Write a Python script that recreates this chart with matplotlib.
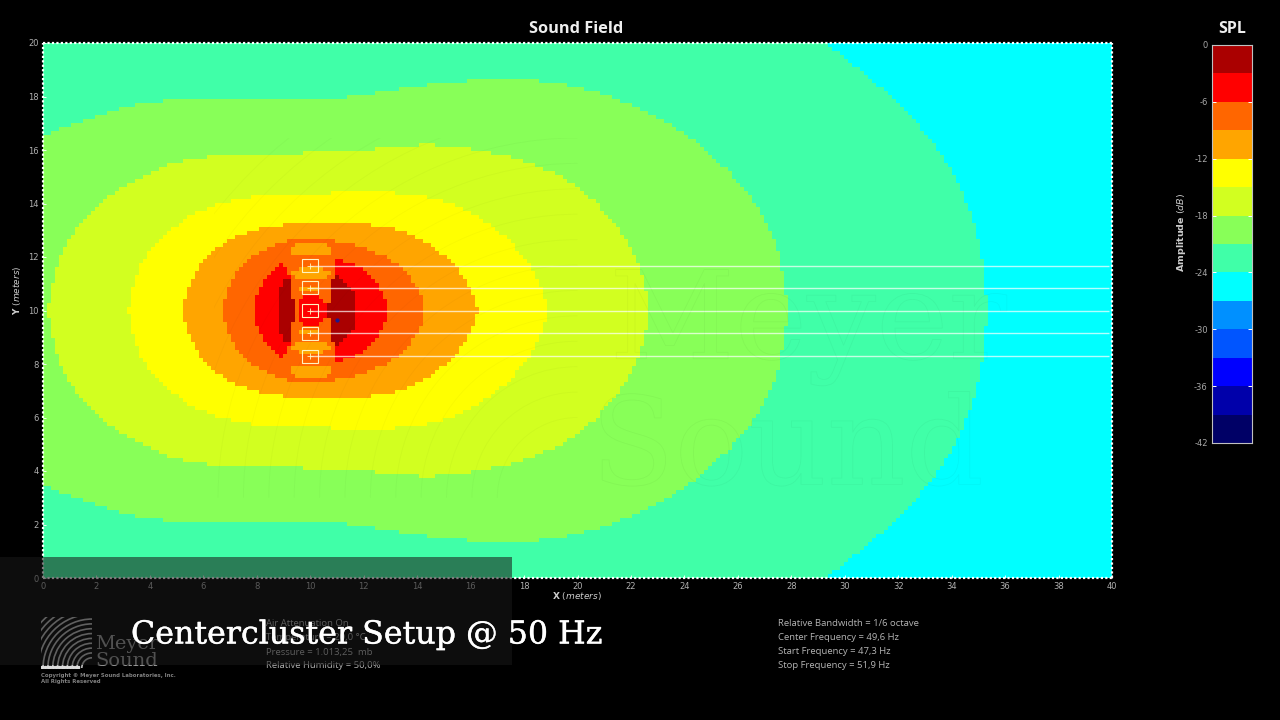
import matplotlib
matplotlib.use('Agg')
import matplotlib.pyplot as plt
import matplotlib.patheffects as pe
import numpy as np
from matplotlib.colors import ListedColormap, BoundaryNorm
from matplotlib.patches import Arc, Rectangle
from matplotlib.path import Path

plt.rcParams['axes.unicode_minus'] = False
plt.rcParams['mathtext.fontset'] = 'dejavusans'

# colour bands, 0 dB down to -42 dB in 3 dB steps
db_edges = [-42, -39, -36, -33, -30, -27, -24, -21, -18, -15, -12, -9, -6, -3, 0]
band_colors = ['#000066', '#0000aa', '#0000ff', '#0055ff', '#0090ff', '#00ffff', '#40ffa8',
               '#88ff58', '#d2ff20', '#ffff00', '#ffa500', '#ff6600', '#ff0000', '#aa0000']
db_ticks = [0, -6, -12, -18, -24, -30, -36, -42]

# contours: x in meters, half height around y = 10
# the first points of mint and green lie outside the frame so the curve meets it cleanly
mint_x = [-4, -3.5, 28.6, 29.26, 31.06, 32.44, 33.83, 34.80, 35.21, 35.32]
mint_h = [10.5, 10.5, 10.5, 10, 8.60, 7.36, 5.61, 3.63, 1.61, 0]
green_x = [-4, 0, 2.47, 4.64, 7.86, 10.85, 12.76, 15.98, 18.56, 20.39, 22.19, 24.13, 25.78, 26.90, 27.58, 27.88]
green_h = [5.0, 6.54, 7.48, 7.93, 7.85, 7.85, 8.22, 8.64, 8.64, 8.30, 7.66, 6.62, 5.12, 3.74, 2.13, 0]
lime_x = [0.19, 0.41, 1.16, 2.47, 4.64, 6.21, 11.75, 14.44, 16.39, 18.45, 19.98, 21.37, 22.34, 22.68]
lime_h = [0, 1.50, 3.10, 4.37, 5.50, 5.85, 5.90, 6.30, 6.02, 5.50, 4.75, 3.36, 1.76, 0]
yellow_x = [3.18, 3.37, 3.74, 4.64, 6.21, 8.64, 10.18, 13.02, 15.34, 17.03, 18.19, 18.82, 18.90]
yellow_h = [0, 1.01, 1.98, 2.99, 4.00, 4.41, 4.37, 4.49, 4.11, 3.10, 1.87, 0.56, 0]
orange_x = [5.24, 5.43, 6.32, 8.27, 11.86, 13.43, 15.08, 15.98, 16.28]
orange_h = [0, 1.01, 2.36, 3.29, 3.29, 3.07, 2.13, 1.01, 0]
dkorange_x = [6.70, 6.96, 7.86, 9.17, 10.44, 12.24, 13.55, 14.26, 14.26]
dkorange_h = [0, 1.12, 2.13, 2.69, 2.73, 2.36, 1.61, 0.49, 0]
red_x = [7.86, 8.12, 8.98, 11.04, 12.12, 12.72, 12.91]
red_h = [0, 1.01, 1.98, 1.98, 1.57, 0.75, 0]
dkred_right_x = [10.5, 11.0, 11.6, 11.75]
dkred_right_h = [1.38, 1.38, 0.75, 0]
dkred_left_x = [8.76, 8.98, 9.6, 9.6]
dkred_left_h = [0, 1.23, 1.23, 0]
# interference pattern in front of the cluster
column_x = [9.54, 9.37, 9.24, 9.24, 9.05, 9.05, 9.18, 10.49, 10.99, 10.99, 10.86, 10.86, 10.74, 10.6]
column_h = [0, 0.37, 0.75, 1.25, 1.62, 2.06, 2.62, 2.62, 2.06, 1.62, 1.25, 0.75, 0.37, 0]
lobe1_x = [9.18, 9.43, 10.61, 10.93]
lobe1_h = [2.06, 2.49, 2.49, 2.06]
lobe2_x = [9.24, 9.67, 10.36, 10.86, 10.49, 9.48]
lobe2_h = [1.37, 1.68, 1.68, 1.37, 1.18, 1.18]
lobe3_x = [9.47, 9.9, 10.3, 10.3, 9.47]
lobe3_h = [0.80, 0.93, 0.93, 0.69, 0.75]
center_x = [9.5, 9.7, 10.3, 10.75]
center_h = [0, 0.56, 0.56, 0]

speaker_x = [10, 10, 10, 10, 10]
speaker_y = [11.68, 10.85, 10.0, 9.15, 8.29]
probe_x = [11.0]
probe_y = [9.66]

left_info = ['Air Attenuation On', 'Temperature = 20,0 °C', 'Pressure = 1.013,25  mb', 'Relative Humidity = 50,0%']
right_info = ['Relative Bandwidth = 1/6 octave', 'Center Frequency = 49,6 Hz',
              'Start Frequency = 47,3 Hz', 'Stop Frequency = 51,9 Hz']

cmap = ListedColormap(band_colors)
norm = BoundaryNorm(db_edges, cmap.N)

# coarse calculation grid, gives the stair steps on the contours
xe = np.linspace(0, 40, 268)
ye = np.linspace(0, 20, 135)
xc, yc = np.meshgrid((xe[:-1] + xe[1:]) / 2, (ye[:-1] + ye[1:]) / 2)
pts = np.column_stack([xc.ravel(), yc.ravel()])
field = np.full(xc.shape, -25.5)


def paint(x, h, db, smooth=False):
    x = np.array(x)
    h = np.array(h)
    poly = np.column_stack([np.r_[x, x[::-1]], np.r_[10 + h, 10 - h[::-1]]])
    if smooth:
        # the read points act as control points of a curved outline
        mids = (poly + np.roll(poly, -1, axis=0)) / 2
        verts = [mids[-1]]
        codes = [Path.MOVETO]
        for p, m in zip(poly, mids):
            verts += [p, m]
            codes += [Path.CURVE3, Path.CURVE3]
        path = Path(verts, codes)
    else:
        path = Path(poly)
    field[path.contains_points(pts).reshape(field.shape)] = db


def paint_lobe(x, h, db):
    x = np.array(x)
    h = np.array(h)
    for side in (1, -1):
        poly = np.column_stack([x, 10 + side * h])
        field[Path(poly).contains_points(pts).reshape(field.shape)] = db


paint(mint_x, mint_h, -22.5, smooth=True)
paint(green_x, green_h, -19.5, smooth=True)
paint(lime_x, lime_h, -16.5, smooth=True)
paint(yellow_x, yellow_h, -13.5, smooth=True)
paint(orange_x, orange_h, -10.5, smooth=True)
paint(dkorange_x, dkorange_h, -7.5, smooth=True)
paint(red_x, red_h, -4.5, smooth=True)
paint(dkred_right_x, dkred_right_h, -1.5)
paint(dkred_left_x, dkred_left_h, -1.5)
paint(column_x, column_h, -7.5)
paint_lobe(lobe1_x, lobe1_h, -10.5)
paint_lobe(lobe2_x, lobe2_h, -10.5)
paint_lobe(lobe3_x, lobe3_h, -10.5)
paint(center_x, center_h, -4.5)

W, H = 1280, 720
fig = plt.figure(figsize=(12.8, 7.2), dpi=100, facecolor='black')


def px_axes(x0, y0, x1, y1, **kw):
    return fig.add_axes([x0 / W, 1 - y1 / H, (x1 - x0) / W, (y1 - y0) / H], **kw)


def px_text(x, y, s, **kw):
    kw.setdefault('va', 'center')
    return fig.text(x / W, 1 - y / H, s, **kw)


# sound field
ax = px_axes(43, 43, 1112, 578)
ax.set_facecolor('black')
ax.pcolormesh(xe, ye, field, cmap=cmap, norm=norm)
ax.set_xlim(0, 40)
ax.set_ylim(0, 20)
ax.set_xticks(range(0, 41, 2))
ax.set_yticks(range(0, 21, 2))
ax.tick_params(direction='in', length=2, width=0.6, color='white', labelcolor='#b0b0b0',
               labelsize=6, pad=3)
for side in ax.spines.values():
    side.set_color('white')
    side.set_linewidth(1.6)
    side.set_linestyle((0, (1, 1)))
    side.set_capstyle('butt')

# faint watermark
box = Rectangle((6.4, 3.0), 13.6, 13.45, transform=ax.transData)
for r in np.arange(3.0, 17.5, 0.95):
    arc = Arc((20, 3.0), 2 * r, 2 * r, theta1=90, theta2=180, color='black', lw=0.7, alpha=0.025)
    ax.add_patch(arc)
    arc.set_clip_path(box)
for word, wx, wy in [('Meyer', 21.2, 8.2), ('Sound', 20.5, 3.5)]:
    ax.text(wx, wy, word, family='DejaVu Serif', fontsize=88, color=(0, 0, 0, 0),
            path_effects=[pe.Stroke(linewidth=0.6, foreground=(0, 0, 0, 0.035))])

# speakers
ax.hlines(speaker_y, speaker_x, 39.9, color='white', lw=1, alpha=0.7)
for sx, sy in zip(speaker_x, speaker_y):
    ax.add_patch(Rectangle((sx - 0.3, sy - 0.24), 0.6, 0.48, fill=False, ec='#fff4c0', lw=0.8))
ax.plot(speaker_x, speaker_y, '+', color='#fff4c0', ms=5, mew=0.6)
ax.plot(probe_x, probe_y, 'o', color='#1a1a90', ms=2)

px_text(576, 29, 'Sound Field', color='#eeeeee', fontsize=11.8, fontweight='bold', ha='center',
        family='Open Sans')
px_text(577, 596, r'$\mathbf{X}$ $\mathit{(meters)}$', color='#cccccc', fontsize=6.5, ha='center')
px_text(17, 290, r'$\mathbf{Y}$ $\mathit{(meters)}$', color='#cccccc', fontsize=6.5, ha='center',
        rotation=90)

# colour bar
cax = px_axes(1212, 45, 1252, 443)
cax.pcolormesh([0, 1], db_edges, (np.array(db_edges[:-1]) + 1.5).reshape(-1, 1), cmap=cmap, norm=norm)
cax.set_xlim(0, 1)
cax.set_ylim(-42, 0)
cax.set_xticks([])
cax.set_yticks(db_ticks)
cax.tick_params(axis='y', direction='in', length=3, width=0.7, color='white', labelcolor='#a8a8a8',
                labelsize=6, pad=3, right=True)
for side in cax.spines.values():
    side.set_color('#c0c0c0')
    side.set_linewidth(0.8)
px_text(1232, 29, 'SPL', color='#eeeeee', fontsize=11.5, fontweight='bold', ha='center', family='Open Sans')
px_text(1181, 232, r'$\mathbf{Amplitude}$ $\mathit{(dB)}$', color='#cccccc', fontsize=6.8, ha='center',
        rotation=90)

# settings text
for i, line in enumerate(left_info):
    px_text(266, 624 + 14 * i, line, color='#b4b4b4', fontsize=6.8, zorder=2, family='Open Sans')
for i, line in enumerate(right_info):
    px_text(778, 624 + 14 * i, line, color='#b4b4b4', fontsize=6.8, family='Open Sans')

# company logo
lax = px_axes(41, 617, 92, 668, zorder=2)
lax.set_xlim(0, 1)
lax.set_ylim(0, 1)
lax.axis('off')
lax.set_facecolor('none')
for r in np.arange(0.2, 1.5, 0.095):
    lax.add_patch(Arc((1, 0), 2 * r, 2 * r, theta1=90, theta2=180, color='#bbbbbb', lw=1.2))
lax.plot(np.arange(0.02, 0.75, 0.055), [0.02] * 14, 's', color='#dddddd', ms=1.5)
px_text(95, 644, 'Meyer', color='#9a9a9a', fontsize=14, family='DejaVu Serif', zorder=2)
px_text(95, 661, 'Sound', color='#9a9a9a', fontsize=14, family='DejaVu Serif', zorder=2)
px_text(41, 675, 'Copyright © Meyer Sound Laboratories, Inc.', color='#808080', fontsize=3.9,
        fontweight='bold', zorder=2)
px_text(41, 682, 'All Rights Reserved', color='#808080', fontsize=3.9, fontweight='bold', zorder=2)

# video caption banner
fig.add_artist(Rectangle((0, 1 - 665 / H), 512 / W, 108 / H, transform=fig.transFigure,
                         color='#191919', alpha=0.56, lw=0, zorder=5))
px_text(131, 635, 'Centercluster Setup @ 50 Hz', color='white', fontsize=22.8,
        family='DejaVu Serif', zorder=6,
        path_effects=[pe.withStroke(linewidth=0.3, foreground='white')])

fig.savefig('out.png', dpi=100, facecolor='black')
